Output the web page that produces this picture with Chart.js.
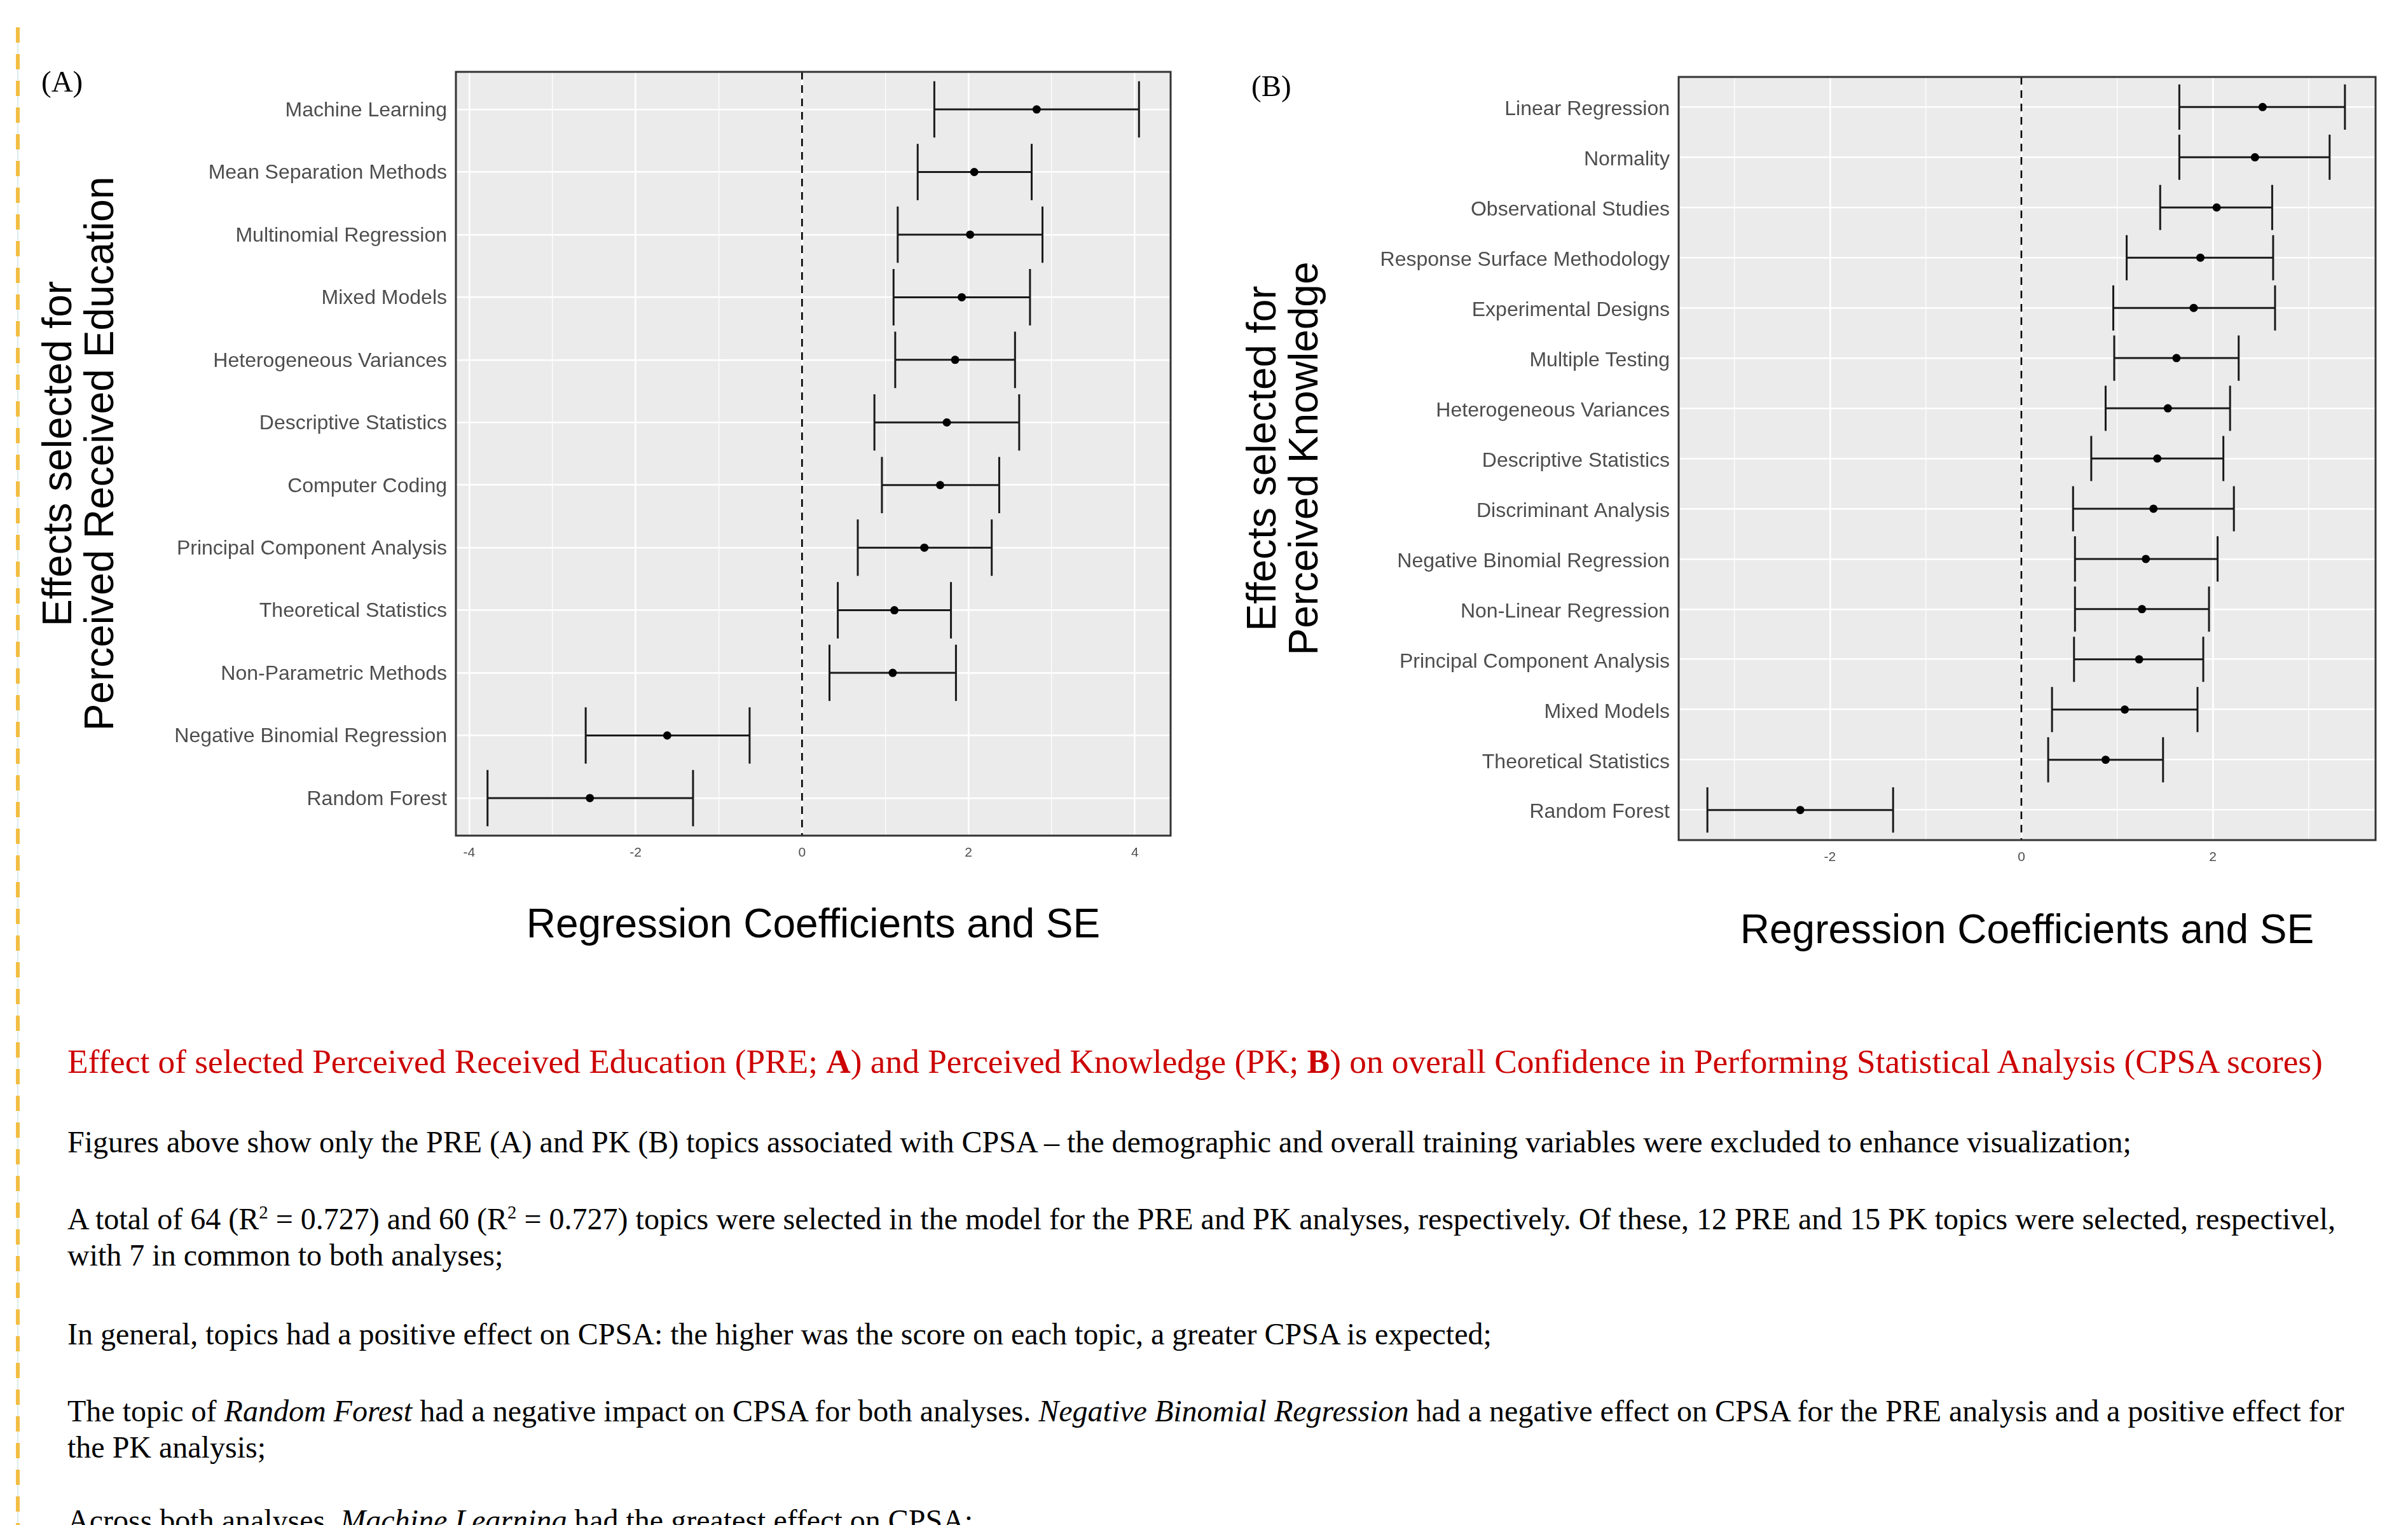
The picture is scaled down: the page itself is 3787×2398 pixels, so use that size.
<!DOCTYPE html>
<html>
<head>
<meta charset="utf-8">
<script src="https://cdn.jsdelivr.net/npm/chart.js@4.4.1/dist/chart.umd.min.js"></script>
<style>
  html, body { margin: 0; padding: 0; background: #fff; }
  body { width: 3787px; height: 2398px; position: relative; overflow: hidden; font-family: "Liberation Serif", "Times New Roman", serif; }
  .rule-thin { position: absolute; left: 27px; top: 43px; width: 2px; height: 2400px; background: #d9ecef; }
  .rule { position: absolute; left: 25px; top: 43px; width: 6px; height: 2400px;
          background: repeating-linear-gradient(to bottom, #f2bd42 0 24px, transparent 24px 42px); }
  canvas { position: absolute; top: 0; }
  #chartA { left: 0; }
  #chartB { left: 1900px; }
  .tag { position: absolute; font-size: 47px; line-height: 47px; color: #000; }
  .txt { position: absolute; left: 106px; font-size: 48px; line-height: 57px; white-space: nowrap; color: #000; }
  .red { color: #cc0000; font-size: 53.3px; }
  sup { font-size: 60%; line-height: 0; vertical-align: super; }
</style>
</head>
<body>
<div class="rule-thin"></div>
<div class="rule"></div>

<canvas id="chartA" width="1900" height="1560"></canvas>
<canvas id="chartB" width="1887" height="1560"></canvas>

<div class="tag" style="left:65px; top:105px;">(A)</div>
<div class="tag" style="left:1968px; top:112px;">(B)</div>

<div class="txt red" style="top:1641px;">Effect of selected Perceived Received Education (PRE; <b>A</b>) and Perceived Knowledge (PK; <b>B</b>) on overall Confidence in Performing Statistical Analysis (CPSA scores)</div>
<div class="txt" style="top:1767px;">Figures above show only the PRE (A) and PK (B) topics associated with CPSA – the demographic and overall training variables were excluded to enhance visualization;</div>
<div class="txt" style="top:1888px;">A total of 64 (R<sup>2</sup> = 0.727) and 60 (R<sup>2</sup> = 0.727) topics were selected in the model for the PRE and PK analyses, respectively. Of these, 12 PRE and 15 PK topics were selected, respectivel,<br>with 7 in common to both analyses;</div>
<div class="txt" style="top:2069px;">In general, topics had a positive effect on CPSA: the higher was the score on each topic, a greater CPSA is expected;</div>
<div class="txt" style="top:2190px;">The topic of <i>Random Forest</i> had a negative impact on CPSA for both analyses. <i>Negative Binomial Regression</i> had a negative effect on CPSA for the PRE analysis and a positive effect for<br>the PK analysis;</div>
<div class="txt" style="top:2362px;">Across both analyses, <i>Machine Learning</i> had the greatest effect on CPSA;</div>

<script>
// (A) Perceived Received Education
const catsA = ["Machine Learning", "Mean Separation Methods", "Multinomial Regression", "Mixed Models",
  "Heterogeneous Variances", "Descriptive Statistics", "Computer Coding", "Principal Component Analysis",
  "Theoretical Statistics", "Non-Parametric Methods", "Negative Binomial Regression", "Random Forest"];
const coefA = [2.82, 2.07, 2.02, 1.92, 1.84, 1.74, 1.66, 1.47, 1.11, 1.09, -1.62, -2.55];
const lowA  = [1.59, 1.39, 1.15, 1.10, 1.12, 0.87, 0.96, 0.67, 0.43, 0.33, -2.60, -3.78];
const highA = [4.05, 2.76, 2.89, 2.74, 2.56, 2.61, 2.37, 2.28, 1.79, 1.85, -0.63, -1.31];

// (B) Perceived Knowledge
const catsB = ["Linear Regression", "Normality", "Observational Studies", "Response Surface Methodology",
  "Experimental Designs", "Multiple Testing", "Heterogeneous Variances", "Descriptive Statistics",
  "Discriminant Analysis", "Negative Binomial Regression", "Non-Linear Regression",
  "Principal Component Analysis", "Mixed Models", "Theoretical Statistics", "Random Forest"];
const coefB = [2.52, 2.44, 2.04, 1.87, 1.80, 1.62, 1.53, 1.42, 1.38, 1.30, 1.26, 1.23, 1.08, 0.88, -2.31];
const lowB  = [1.65, 1.65, 1.45, 1.10, 0.96, 0.97, 0.88, 0.73, 0.54, 0.56, 0.56, 0.55, 0.32, 0.28, -3.28];
const highB = [3.38, 3.22, 2.62, 2.63, 2.65, 2.27, 2.18, 2.11, 2.22, 2.05, 1.96, 1.90, 1.84, 1.48, -1.34];

const xTicksA = [-4, -3, -2, -1, 0, 1, 2, 3, 4];
const xTicksB = [-3, -2, -1, 0, 1, 2, 3];
const xTitle = "Regression Coefficients and SE";
const yTitleA = ["Effects selected for", "Perceived Received Education"];
const yTitleB = ["Effects selected for", "Perceived Knowledge"];

const sans = "'Liberation Sans', Arial, sans-serif";

// panel background, zero line, error bars and the frame
function errorBarPlugin(low, high) {
  return {
    id: "errorBars",
    beforeDraw(chart) {
      const { ctx, chartArea: a } = chart;
      ctx.save();
      ctx.fillStyle = "#ebebeb";
      ctx.fillRect(a.left, a.top, a.right - a.left, a.bottom - a.top);
      ctx.restore();
    },
    beforeDatasetsDraw(chart) {
      const { ctx, chartArea: a, scales: { x, y } } = chart;
      const x0 = x.getPixelForValue(0);
      ctx.save();
      ctx.strokeStyle = "#000";
      ctx.lineWidth = 2.6;
      ctx.setLineDash([12, 9]);
      ctx.beginPath();
      ctx.moveTo(x0, a.top);
      ctx.lineTo(x0, a.bottom);
      ctx.stroke();
      ctx.setLineDash([]);
      ctx.strokeStyle = "#1a1a1a";
      ctx.lineWidth = 3;
      low.forEach((lo, i) => {
        const xl = x.getPixelForValue(lo);
        const xh = x.getPixelForValue(high[i]);
        const yc = y.getPixelForValue(i);
        const y1 = y.getPixelForValue(i - 0.45);
        const y2 = y.getPixelForValue(i + 0.45);
        ctx.beginPath();
        ctx.moveTo(xl, yc); ctx.lineTo(xh, yc);
        ctx.moveTo(xl, y1); ctx.lineTo(xl, y2);
        ctx.moveTo(xh, y1); ctx.lineTo(xh, y2);
        ctx.stroke();
      });
      ctx.restore();
    },
    afterDraw(chart) {
      const { ctx, chartArea: a } = chart;
      ctx.save();
      ctx.strokeStyle = "#333333";
      ctx.lineWidth = 3;
      ctx.strokeRect(a.left, a.top, a.right - a.left, a.bottom - a.top);
      ctx.restore();
    }
  };
}

function drawForest(id, cats, coef, low, high, cfg) {
  const ctx = document.getElementById(id).getContext("2d");
  return new Chart(ctx, {
    type: "scatter",
    data: {
      datasets: [{
        data: coef.map((v, i) => ({ x: v, y: i })),
        pointRadius: 6.5,
        pointBackgroundColor: "#000",
        pointBorderWidth: 0
      }]
    },
    options: {
      responsive: false,
      animation: false,
      events: [],
      layout: { padding: cfg.padding },
      plugins: { legend: { display: false }, tooltip: { enabled: false } },
      scales: {
        x: {
          type: "linear",
          min: cfg.xmin,
          max: cfg.xmax,
          afterBuildTicks: s => { s.ticks = cfg.xTicks.map(v => ({ value: v })); },
          afterFit: s => { s.height = cfg.xH; },
          border: { display: false },
          grid: {
            color: "#ffffff",
            lineWidth: c => (c.tick && c.tick.value % 2 === 0) ? 2.6 : 1.3,
            drawTicks: false
          },
          ticks: {
            autoSkip: false,
            maxRotation: 0,
            padding: 15,
            color: "#4d4d4d",
            font: { family: sans, size: 21 },
            callback: v => (v % 2 === 0 ? String(v) : "")
          },
          title: {
            display: true,
            text: xTitle,
            color: "#000",
            font: { family: sans, size: 64, lineHeight: 1.2 },
            padding: { top: 0, bottom: cfg.xTitlePad }
          }
        },
        y: {
          type: "linear",
          reverse: true,
          min: -0.6,
          max: cats.length - 0.4,
          afterBuildTicks: s => { s.ticks = cats.map((c, i) => ({ value: i })); },
          afterFit: s => { s.width = cfg.yW; },
          border: { display: false },
          grid: { color: "#ffffff", lineWidth: 2.6, drawTicks: false },
          ticks: {
            autoSkip: false,
            padding: 14,
            labelOffset: cfg.labelOffset,
            color: "#4d4d4d",
            font: { family: sans, size: 32 },
            callback: v => cats[v]
          },
          title: {
            display: true,
            text: cfg.yTitle,
            color: "#000",
            font: { family: sans, size: 64, lineHeight: 1.04 },
            padding: { top: cfg.yTitlePad, bottom: 0 }
          }
        }
      }
    },
    plugins: [errorBarPlugin(low, high)]
  });
}

drawForest("chartA", catsA, coefA, lowA, highA, {
  padding: { left: 40, top: 113, right: 59, bottom: 0 },
  xmin: -4.16, xmax: 4.43, xTicks: xTicksA,
  xH: 246, xTitlePad: 65,
  yW: 677, yTitle: yTitleA, yTitlePad: 21, labelOffset: 2
});

drawForest("chartB", catsB, coefB, lowB, highB, {
  padding: { left: 40, top: 121, right: 51, bottom: 0 },
  xmin: -3.58, xmax: 3.70, xTicks: xTicksB,
  xH: 239, xTitlePad: 56,
  yW: 700, yTitle: yTitleB, yTitlePad: 15, labelOffset: 4
});
</script>
</body>
</html>
